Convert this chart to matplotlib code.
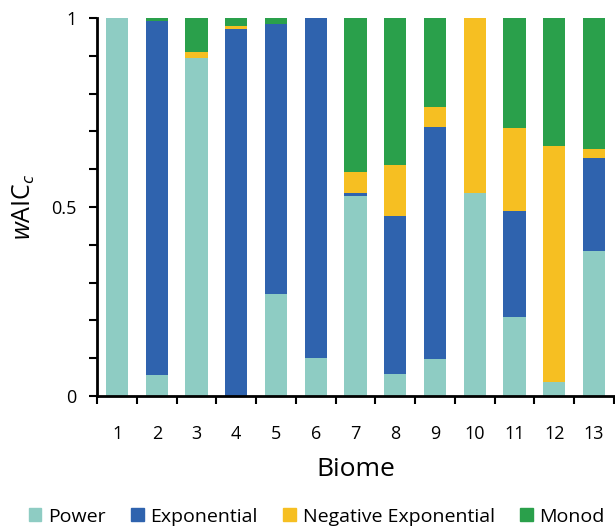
import matplotlib
matplotlib.use("Agg")
import matplotlib.pyplot as plt
import numpy as np
from matplotlib.patches import Patch

plt.rcParams['font.family'] = ['Open Sans', 'DejaVu Sans']
plt.rcParams['mathtext.fontset'] = 'custom'
plt.rcParams['mathtext.rm'] = 'Open Sans'
plt.rcParams['mathtext.it'] = 'Open Sans:italic'

biomes = [str(i) for i in range(1, 14)]
power = [1.0, 0.056, 0.895, 0.0, 0.27, 0.10, 0.53, 0.057, 0.098, 0.536, 0.21, 0.038, 0.384]
exponential = [0.0, 0.937, 0.0, 0.971, 0.715, 0.90, 0.008, 0.419, 0.614, 0.0, 0.278, 0.0, 0.245]
neg_exponential = [0.0, 0.0, 0.015, 0.007, 0.0, 0.0, 0.055, 0.134, 0.053, 0.464, 0.222, 0.624, 0.024]
monod = [0.0, 0.007, 0.09, 0.022, 0.015, 0.0, 0.407, 0.39, 0.235, 0.0, 0.29, 0.338, 0.347]

series = [("Power", power, "#8ECCC3"),
          ("Exponential", exponential, "#2F63AE"),
          ("Negative Exponential", neg_exponential, "#F6BF22"),
          ("Monod", monod, "#2AA04B")]

fig = plt.figure(figsize=(6.15, 5.3), dpi=100)
ax = fig.add_axes([0.158, 0.253, 0.84, 0.713])

x = np.arange(1, len(biomes) + 1)
bottom = np.zeros(len(biomes))
for name, vals, col in series:
    v = np.array(vals)
    ax.bar(x, v, width=0.56, bottom=bottom, color=col, label=name, linewidth=0)
    bottom += v

ax.set_xlim(0.5, 13.5)
ax.set_ylim(0, 1)
for s in ['top', 'right']:
    ax.spines[s].set_visible(False)
for s in ['left', 'bottom']:
    ax.spines[s].set_linewidth(2)

ax.set_yticks([0, 0.5, 1])
ax.set_yticklabels(['0', '0.5', '1'])
ax.set_yticks(np.arange(0, 1.01, 0.1), minor=True)
ax.tick_params(axis='y', which='both', direction='out', length=6, width=1.5, labelsize=13, pad=9)

ax.set_xticks(x)
ax.set_xticklabels(biomes)
ax.set_xticks(np.arange(0.5, 13.6, 1), minor=True)
ax.tick_params(axis='x', which='major', length=0, labelsize=13, pad=21)
ax.tick_params(axis='x', which='minor', direction='out', length=6, width=1.5)

ax.set_xlabel('Biome', fontsize=19, labelpad=10)
ax.set_ylabel(r'$\mathit{w}$AIC$_{\mathit{c}}$', fontsize=18, labelpad=10)

handles = [Patch(color=c, label=n) for n, _, c in series]
fig.legend(handles=handles, loc='lower center', ncol=4, frameon=False,
           fontsize=14, handlelength=0.65, handleheight=0.65, handletextpad=0.35,
           columnspacing=1.3, bbox_to_anchor=(0.515, -0.025))

fig.savefig('out.png', dpi=100)
